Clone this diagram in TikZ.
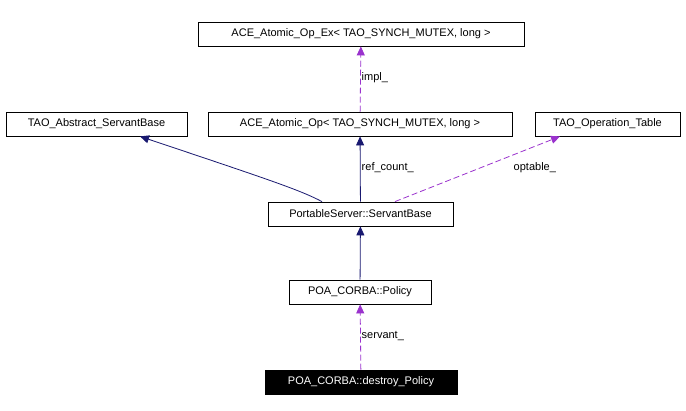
\documentclass[tikz,border=0pt]{standalone}
\usepackage{fontspec}
\setmainfont{Liberation Sans}
\usetikzlibrary{arrows.meta}
\begin{document}
\begin{tikzpicture}[x=1pt,y=-1pt,line width=0.8pt,
  box/.style={draw,minimum height=24pt,inner sep=0pt,font=\fontsize{11}{13}\selectfont},
  inh/.style={draw=navy,-{Triangle[open,fill=navy,length=9pt,width=8pt]}},
  use/.style={draw=violet1,dash pattern=on 6pt off 3pt,-{Triangle[open,fill=violet1,length=9pt,width=8pt]}},
  lab/.style={font=\fontsize{11}{13}\selectfont,anchor=west}]
\definecolor{navy}{RGB}{25,25,112}
\definecolor{violet1}{RGB}{154,50,205}
\useasboundingbox (0,0) rectangle (686,411);
\node[box,minimum width=326pt] (ex) at (361,34) {ACE\_Atomic\_Op\_Ex< TAO\_SYNCH\_MUTEX, long >};
\node[box,minimum width=181pt] (abs) at (96.5,124) {TAO\_Abstract\_ServantBase};
\node[box,minimum width=304pt] (op) at (360,124) {ACE\_Atomic\_Op< TAO\_SYNCH\_MUTEX, long >};
\node[box,minimum width=145pt] (tab) at (607.5,124) {TAO\_Operation\_Table};
\node[box,minimum width=185pt] (sb) at (360.5,214) {PortableServer::ServantBase};
\node[box,minimum width=142pt] (pol) at (360,292) {POA\_CORBA::Policy};
\node[box,minimum width=192pt,fill=black,text=white] (dp) at (361,382) {POA\_CORBA::destroy\_Policy};
\draw[inh] (sb.north -| 322,0) .. controls (300,190) and (270,180) .. (abs.south -| 140,0);
\draw[inh] (sb) -- (op);
\draw[use] (op) -- (ex);
\draw[use] (sb.north -| 395,0) -- (tab.south -| 560,0);
\draw[inh] (pol) -- (sb);
\draw[use] (dp) -- (pol);
\node[lab] (l1) at (358,78) {impl\_};
\node[lab] (l2) at (358,168) {ref\_count\_};
\node[lab] (l3) at (510,168) {optable\_};
\node[lab] (l4) at (358,336) {servant\_};
\end{tikzpicture}
\end{document}
